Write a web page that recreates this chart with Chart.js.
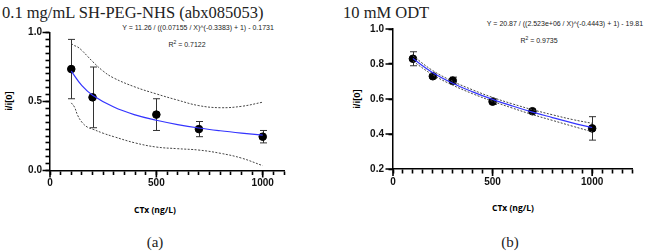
<!DOCTYPE html>
<html>
<head>
<meta charset="utf-8">
<script src="https://cdn.jsdelivr.net/npm/chart.js@4.4.1/dist/chart.umd.min.js"></script>
<style>
  body { margin: 0; background: #fff; width: 661px; height: 251px; position: relative; overflow: hidden; }
  .t { position: absolute; white-space: nowrap; line-height: 1; transform: translate(-50%, -50%); }
  .serif { font-family: "Liberation Serif", serif; color: #222; }
  .title { font-size: 16.5px; transform: translate(0, -50%); }
  .panel { font-size: 15px; }
  .eq { font-family: "Liberation Sans", Arial, sans-serif; font-size: 7px; color: #222; }
  .ytitle { font-family: "Liberation Sans", Arial, sans-serif; font-weight: bold; font-size: 9.5px; transform: translate(-50%, -50%) rotate(-90deg); }
  .xtitle { font-family: "Open Sans", sans-serif; font-weight: bold; font-size: 8.5px; }
  canvas { position: absolute; top: 0; }
</style>
</head>
<body>
<div class="t serif title" style="left:2px; top:13px">0.1 mg/mL SH-PEG-NHS (abx085053)</div>
<div class="t serif title" style="left:343px; top:13px">10 mM ODT</div>

<div class="t eq" style="left:198px; top:26.5px">Y = 11.26 / ((0.07155 / X)^(-0.3383) + 1) - 0.1731</div>
<div class="t eq" style="left:187px; top:43.5px">R<sup style="font-size:5px">2</sup> = 0.7122</div>
<div class="t eq" style="left:565px; top:23px">Y = 20.87 / ((2.523e+06 / X)^(-0.4443) + 1) - 19.81</div>
<div class="t eq" style="left:539px; top:39.5px">R<sup style="font-size:5px">2</sup> = 0.9735</div>

<div class="t ytitle" style="left:9px; top:101px">i/i[0]</div>
<div class="t ytitle" style="left:357px; top:99px">i/i[0]</div>
<div class="t xtitle" style="left:155px; top:210px">CTx (ng/L)</div>
<div class="t xtitle" style="left:513px; top:208px">CTx (ng/L)</div>

<div class="t serif panel" style="left:155px; top:242px">(a)</div>
<div class="t serif panel" style="left:510px; top:242px">(b)</div>

<canvas id="chartA" width="300" height="225" style="left:0px"></canvas>
<canvas id="chartB" width="320" height="225" style="left:330px"></canvas>

<script>
// (a) 0.1 mg/mL SH-PEG-NHS
const concA = [100, 200, 500, 700, 1000]
const meanA = [0.735, 0.53, 0.405, 0.30, 0.245]
const errA = [0.215, 0.22, 0.115, 0.055, 0.045]
const fitXA = [100, 150, 200, 300, 400, 500, 600, 700, 800, 900, 1000]
const fitYA = [0.72, 0.615, 0.546, 0.46, 0.403, 0.364, 0.333, 0.308, 0.288, 0.271, 0.256]
const bandXA = [100, 115, 130, 150, 175, 200, 250, 300, 400, 500, 600, 700, 800, 900, 1000]
const upperA = [0.92, 0.905, 0.895, 0.87, 0.83, 0.79, 0.72, 0.67, 0.605, 0.555, 0.51, 0.47, 0.455, 0.465, 0.495]
const lowerA = [0.49, 0.46, 0.40, 0.35, 0.315, 0.30, 0.27, 0.245, 0.20, 0.17, 0.158, 0.148, 0.125, 0.09, 0.035]
const xTicksA = [0, 500, 1000]
const yTicksA = [0, 0.5, 1.0]

// (b) 10 mM ODT
const concB = [100, 200, 300, 500, 700, 1000]
const meanB = [0.83, 0.73, 0.705, 0.585, 0.53, 0.432]
const errB = [0.04, 0.01, 0.02, 0.015, 0.01, 0.067]
const fitXB = [100, 200, 300, 400, 500, 600, 700, 800, 900, 1000]
const fitYB = [0.831, 0.75, 0.69, 0.641, 0.598, 0.56, 0.525, 0.494, 0.464, 0.437]
const upperB = [0.846, 0.762, 0.701, 0.652, 0.609, 0.572, 0.539, 0.51, 0.483, 0.461]
const lowerB = [0.816, 0.738, 0.679, 0.63, 0.587, 0.548, 0.511, 0.478, 0.445, 0.413]
const xTicksB = [0, 500, 1000]
const yTicksB = [0.2, 0.4, 0.6, 0.8, 1.0]

Chart.defaults.font.family = "'Liberation Sans', Arial, sans-serif"
Chart.defaults.color = '#111'

const pts = (xs, ys) => xs.map((x, i) => ({ x: x, y: ys[i] }))
const isMajor = (list, v) => list.some(m => Math.abs(m - v) < 1e-6)

// tick positions every step between min and max (minor + major)
function tickRange(min, max, step) {
    const out = []
    const n = Math.round((max - min) / step)
    for (let i = 0; i <= n; i++) out.push({ value: Math.round((min + i * step) * 1000) / 1000 })
    return out
}

function makeChart(id, d) {
    // error bars + longer major ticks, drawn before the datasets
    const extras = {
        id: 'extras',
        beforeDatasetsDraw(chart) {
            const ctx = chart.ctx, area = chart.chartArea
            const sx = chart.scales.x, sy = chart.scales.y
            ctx.save()
            ctx.strokeStyle = '#000'
            ctx.lineWidth = 1.6
            ctx.beginPath()
            d.xTicks.forEach(v => {
                const px = sx.getPixelForValue(v)
                ctx.moveTo(px, area.bottom); ctx.lineTo(px, area.bottom + 7)
            })
            d.yTicks.forEach(v => {
                const py = sy.getPixelForValue(v)
                ctx.moveTo(area.left, py); ctx.lineTo(area.left - 7.5, py)
            })
            ctx.stroke()

            ctx.strokeStyle = '#333'
            ctx.lineWidth = 1
            d.conc.forEach((v, i) => {
                const px = Math.round(sx.getPixelForValue(v)) + 0.5
                const top = sy.getPixelForValue(d.mean[i] + d.err[i])
                const bot = sy.getPixelForValue(d.mean[i] - d.err[i])
                ctx.beginPath()
                ctx.moveTo(px, top); ctx.lineTo(px, bot)
                ctx.moveTo(px - 3.5, top); ctx.lineTo(px + 3.5, top)
                ctx.moveTo(px - 3.5, bot); ctx.lineTo(px + 3.5, bot)
                ctx.stroke()
            })
            ctx.restore()
        }
    }

    const tickGrid = {
        display: true, drawOnChartArea: false, drawTicks: true,
        tickLength: 4.5, tickColor: '#000', tickWidth: 1.6
    }

    return new Chart(document.getElementById(id), {
        type: 'scatter',
        data: {
            datasets: [
                { type: 'line', data: pts(d.bandX, d.upper), borderColor: '#444', borderWidth: 1, borderDash: [2, 1.5], pointRadius: 0, tension: 0.4, fill: false },
                { type: 'line', data: pts(d.bandX, d.lower), borderColor: '#444', borderWidth: 1, borderDash: [2, 1.5], pointRadius: 0, tension: 0.4, fill: false },
                { type: 'line', data: pts(d.fitX, d.fitY), borderColor: '#3434ff', borderWidth: 1.2, pointRadius: 0, tension: 0.4, fill: false },
                { data: pts(d.conc, d.mean), backgroundColor: '#000', borderColor: '#000', pointRadius: 3.8, showLine: false }
            ]
        },
        options: {
            responsive: false,
            animation: false,
            events: [],
            layout: { padding: { top: d.top, right: d.right, left: 0, bottom: 0 } },
            plugins: { legend: { display: false }, tooltip: { enabled: false } },
            scales: {
                x: {
                    type: 'linear', min: 0, max: d.xMax,
                    grid: tickGrid,
                    border: { display: true, color: '#000', width: 1.5 },
                    ticks: {
                        padding: d.xPad, autoSkip: false, maxRotation: 0,
                        font: { size: 10, weight: 'bold' }, color: '#111',
                        callback: v => isMajor(d.xTicks, v) ? String(v) : ''
                    },
                    afterBuildTicks: s => { s.ticks = tickRange(0, d.xMax, 50) },
                    afterFit: s => { s.height = 225 - d.bottom }
                },
                y: {
                    min: d.yMin, max: 1.0,
                    grid: tickGrid,
                    border: { display: true, color: '#000', width: 1.5 },
                    ticks: {
                        padding: d.yPad, autoSkip: false,
                        font: { size: 10, weight: 'bold' }, color: '#111',
                        callback: v => isMajor(d.yTicks, v) ? v.toFixed(1) : ''
                    },
                    afterBuildTicks: s => { s.ticks = tickRange(d.yMin, 1.0, d.yStep) },
                    afterFit: s => { s.width = d.left }
                }
            }
        },
        plugins: [extras]
    })
}

makeChart('chartA', {
    conc: concA, mean: meanA, err: errA, fitX: fitXA, fitY: fitYA,
    bandX: bandXA, upper: upperA, lower: lowerA, xTicks: xTicksA, yTicks: yTicksA,
    xMax: 1100, yMin: 0, yStep: 0.05,
    left: 50, top: 32.5, right: 16, bottom: 170.5, xPad: 2.5, yPad: 3.5
})

makeChart('chartB', {
    conc: concB, mean: meanB, err: errB, fitX: fitXB, fitY: fitYB,
    bandX: fitXB, upper: upperB, lower: lowerB, xTicks: xTicksB, yTicks: yTicksB,
    xMax: 1200, yMin: 0.2, yStep: 0.2,
    left: 63, top: 29, right: 18, bottom: 169, xPad: 3, yPad: 4.5
})
</script>
</body>
</html>
